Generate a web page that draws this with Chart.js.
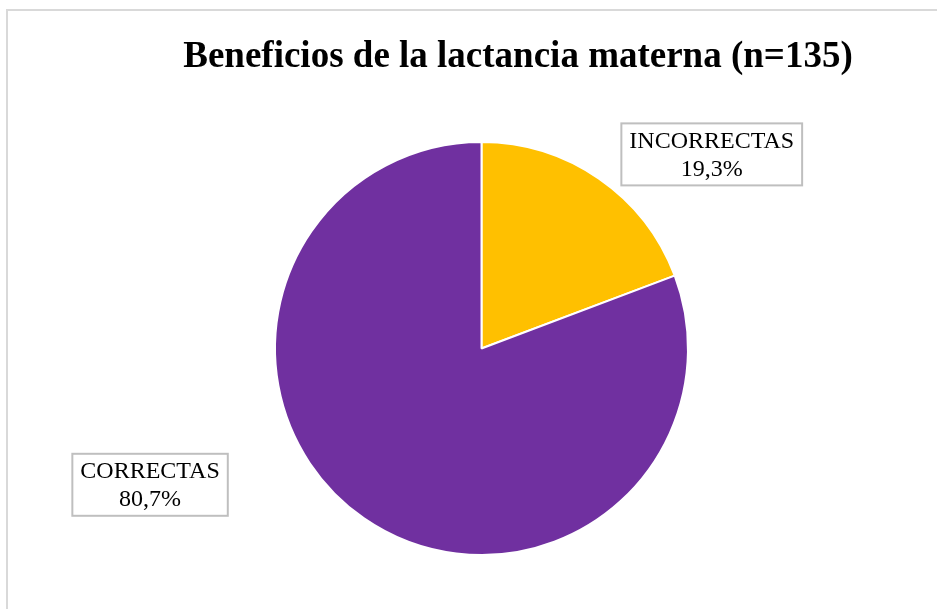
<!DOCTYPE html>
<html>
<head>
<meta charset="utf-8">
<script src="https://cdn.jsdelivr.net/npm/chart.js@4/dist/chart.umd.min.js"></script>
<style>
  html, body { margin: 0; padding: 0; background: #fff; overflow: hidden; }
  #frame {
    position: absolute; left: 6px; top: 9px;
    width: 1000px; height: 700px;
    border: 2px solid #d9d9d9;
  }
  #myChart { position: absolute; left: 0; top: 0; }
</style>
</head>
<body>
<div id="frame"></div>
<canvas id="myChart" width="937" height="609"></canvas>
<script>
const titleText = "Beneficios de la lactancia materna (n=135)";
const xValues = ["INCORRECTAS", "CORRECTAS"];
const yValues = [26, 109];
const barColors = ["#FFC000", "#7030A0"];

// where each label box sits, relative to the pie centre, in radii
const labelOffsets = [
  { dx: 1.115, dy: -0.94 },
  { dx: -1.605, dy: 0.66 }
];

const total = yValues.reduce((a, b) => a + b, 0);

function pct(v) {
  return (v / total * 100).toFixed(1).replace('.', ',') + '%';
}

const boxLabels = {
  id: 'boxLabels',
  afterDatasetsDraw(chart) {
    const ctx = chart.ctx;
    const arcs = chart.getDatasetMeta(0).data;
    ctx.save();
    // title
    ctx.font = 'bold 37px "Liberation Serif", "Times New Roman", serif';
    ctx.fillStyle = '#000';
    ctx.textAlign = 'center';
    ctx.textBaseline = 'alphabetic';
    ctx.fillText(titleText, 518, 67);

    ctx.font = '24px "Liberation Serif", "Times New Roman", serif';
    arcs.forEach((arc, i) => {
      const r = arc.outerRadius;
      const cx = arc.x + labelOffsets[i].dx * r;
      const cy = arc.y + labelOffsets[i].dy * r;
      const lines = [xValues[i], pct(yValues[i])];
      const w = ctx.measureText(lines[0]).width + 16;
      const h = 62;
      ctx.fillStyle = '#fff';
      ctx.fillRect(cx - w / 2, cy - h / 2, w, h);
      ctx.strokeStyle = '#bfbfbf';
      ctx.lineWidth = 2;
      ctx.strokeRect(cx - w / 2, cy - h / 2, w, h);
      ctx.fillStyle = '#000';
      ctx.textBaseline = 'middle';
      ctx.fillText(lines[0], cx, cy - 13);
      ctx.fillText(lines[1], cx, cy + 15);
    });
    ctx.restore();
  }
};

new Chart("myChart", {
  type: "pie",
  data: {
    labels: xValues,
    datasets: [{
      backgroundColor: barColors,
      borderColor: "#ffffff",
      borderWidth: 2,
      data: yValues
    }]
  },
  options: {
    responsive: false,
    animation: false,
    layout: {
      padding: { left: 274, right: 248, top: 141, bottom: 53 }
    },
    plugins: {
      legend: { display: false },
      title: { display: false },
      tooltip: { enabled: false }
    }
  },
  plugins: [boxLabels]
});
</script>
</body>
</html>
